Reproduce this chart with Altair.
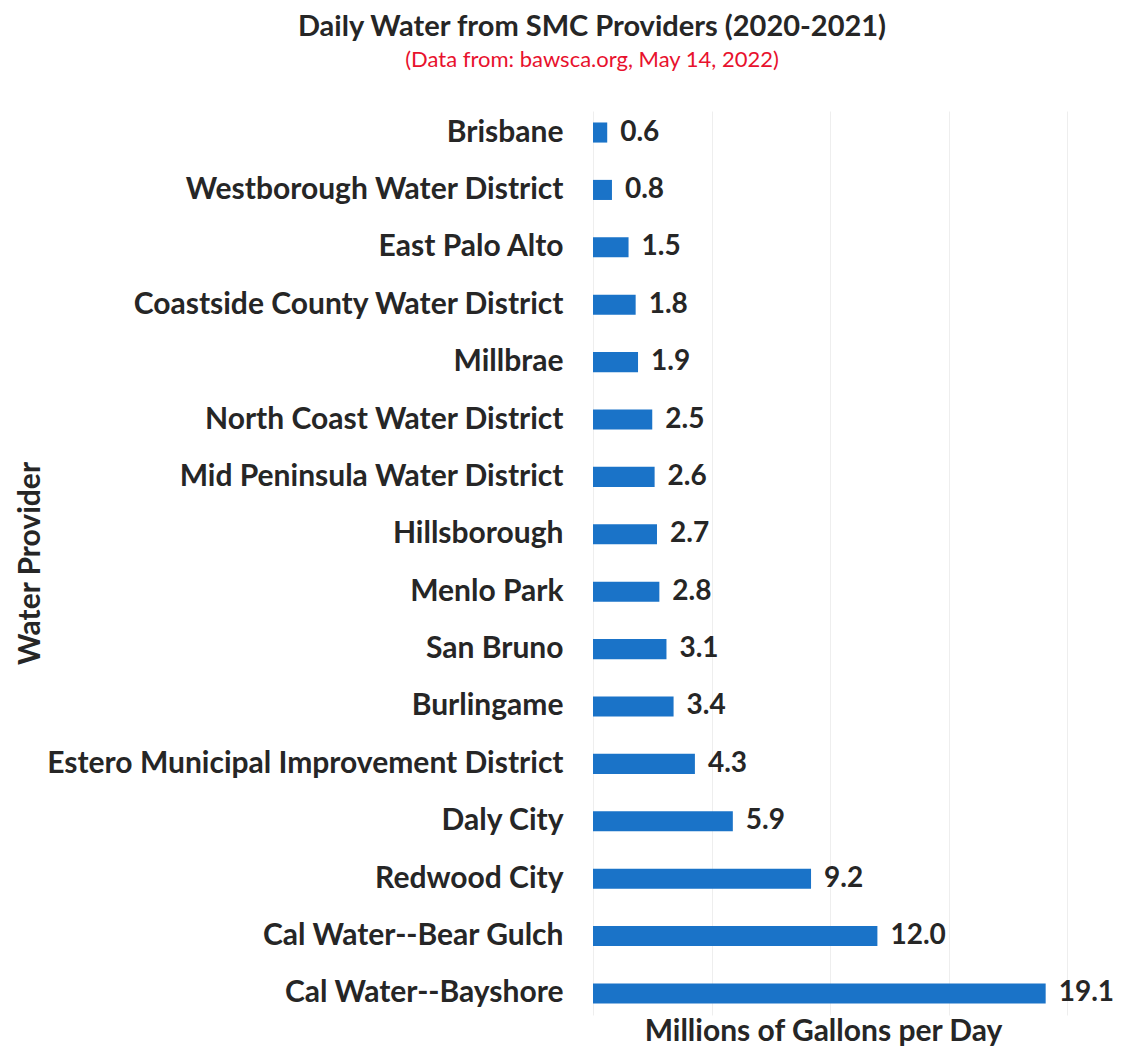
import altair as alt
import pandas as pd

providers = [
    "Brisbane", "Westborough Water District", "East Palo Alto",
    "Coastside County Water District", "Millbrae", "North Coast Water District",
    "Mid Peninsula Water District", "Hillsborough", "Menlo Park", "San Bruno",
    "Burlingame", "Estero Municipal Improvement District", "Daly City",
    "Redwood City", "Cal Water--Bear Gulch", "Cal Water--Bayshore",
]
values = [0.6, 0.8, 1.5, 1.8, 1.9, 2.5, 2.6, 2.7, 2.8, 3.1, 3.4, 4.3, 5.9, 9.2, 12.0, 19.1]
labels = ["0.6", "0.8", "1.5", "1.8", "1.9", "2.5", "2.6", "2.7", "2.8", "3.1",
          "3.4", "4.3", "5.9", "9.2", "12.0", "19.1"]

df = pd.DataFrame({"provider": providers, "value": values, "label": labels})

FONT = "Lato"
W, H = 474, 904

y_enc = alt.Y(
    "provider:N", sort=providers,
    scale=alt.Scale(paddingInner=0.65, paddingOuter=0.2),
    axis=alt.Axis(
        title="Water Provider", labelFont=FONT, labelFontSize=30, labelFontWeight="bold",
        labelColor="#262626", labelPadding=30, ticks=False, domain=False,
        titleFont=FONT, titleFontSize=30, titleFontWeight="bold", titleColor="#262626",
        titleX=-563, titleY=452, titleAngle=-90, titleAlign="center", titleBaseline="middle",
        labelLimit=700,
    ),
)
x_enc = alt.X(
    "value:Q", scale=alt.Scale(domain=[0, 20], nice=False),
    axis=alt.Axis(
        title="Millions of Gallons per Day", values=[0, 5, 10, 15, 20], labels=False,
        ticks=False, domain=False, grid=True, gridColor="#eeeeee",
        titleFont=FONT, titleFontSize=30, titleFontWeight="bold", titleColor="#262626",
        titleX=230, titleY=16, titleAlign="center", titleBaseline="middle",
    ),
)

bars = alt.Chart(df).mark_bar(color="#1a73c8").encode(x=x_enc, y=y_enc)
text = alt.Chart(df).mark_text(
    align="left", baseline="middle", dx=13, font=FONT, fontSize=28,
    fontWeight="bold", color="#262626",
).encode(x="value:Q", y=alt.Y("provider:N", sort=providers), text="label:N")

chart = (bars + text).properties(
    width=W, height=H,
    autosize=alt.AutoSizeParams(type="none"),
    padding={"left": 593, "top": 111, "right": 1124 - 593 - W, "bottom": 1047 - 111 - H},
    title=alt.TitleParams(
        text="Daily Water from SMC Providers (2020-2021)",
        subtitle="(Data from: bawsca.org, May 14, 2022)",
        font=FONT, fontSize=29, fontWeight="bold", color="#262626",
        subtitleFont=FONT, subtitleFontSize=22, subtitleColor="#e8112d",
        subtitlePadding=8, anchor="middle", dx=-238, offset=40,
    ),
).configure_view(stroke=None)

chart.save("out.html", embed_options={"renderer": "svg", "actions": False})
